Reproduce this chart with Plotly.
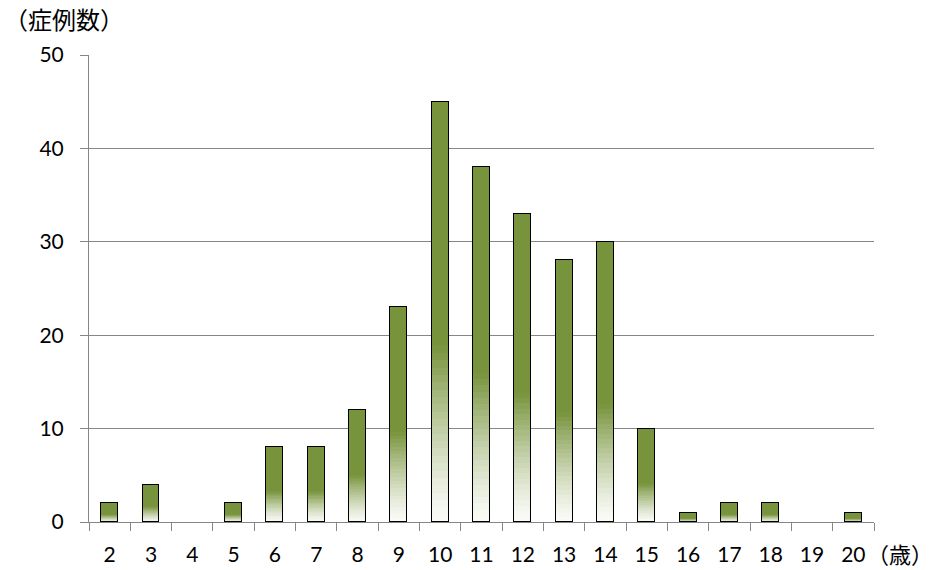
import plotly.graph_objects as go

ages = ["2", "3", "4", "5", "6", "7", "8", "9", "10", "11", "12", "13", "14", "15", "16", "17", "18", "19", "20"]
cases = [2, 4, 0, 2, 8, 8, 12, 23, 45, 38, 33, 28, 30, 10, 1, 2, 2, 0, 1]
y_ticks = [0, 10, 20, 30, 40, 50]

GREEN = (119, 147, 60)
WHITE = (250, 251, 247)
FADE_SHARE = 0.42  # share of each bar (from the bottom) that fades to white
N_SLICES = 24

fig = go.Figure()

def mix(t):
    r = [round(WHITE[i] + (GREEN[i] - WHITE[i]) * t) for i in range(3)]
    return f"rgb({r[0]},{r[1]},{r[2]})"

# gradient part: stacked slices
for k in range(N_SLICES):
    t = ((k + 0.5) / N_SLICES) ** 1.3
    fig.add_trace(go.Bar(
        x=ages, y=[v * FADE_SHARE / N_SLICES for v in cases],
        marker=dict(color=mix(t), line=dict(width=0)),
        width=0.41, hoverinfo="skip", showlegend=False,
    ))
# solid part
fig.add_trace(go.Bar(
    x=ages, y=[v * (1 - FADE_SHARE) for v in cases],
    marker=dict(color=mix(1.0), line=dict(width=0)),
    width=0.41, showlegend=False, hoverinfo="skip",
))
# outline on overlaid axis
fig.add_trace(go.Bar(
    x=ages, y=[v if v > 0 else None for v in cases],
    marker=dict(color="rgba(0,0,0,0)", line=dict(color="black", width=1.5)),
    width=0.41, xaxis="x2", showlegend=False,
))

num_font = dict(family="Lato, Liberation Sans, Arial, sans-serif", size=21, color="black")
cjk_font = dict(family="Noto Sans CJK JP", size=24, color="black")

fig.update_layout(
    width=936, height=570,
    margin=dict(l=89, r=62, t=55, b=48, autoexpand=False),
    plot_bgcolor="white", paper_bgcolor="white",
    barmode="stack", bargap=0,
    xaxis=dict(
        type="category", categoryorder="array", categoryarray=ages,
        range=[-0.5, len(ages) - 0.5],
        showline=True, linecolor="#868686", linewidth=1,
        ticks="outside", tickson="boundaries", ticklen=8, tickcolor="#868686",
        showgrid=False, tickfont=num_font, ticklabelstandoff=14, automargin=False,
    ),
    xaxis2=dict(
        type="category", categoryorder="array", categoryarray=ages,
        range=[-0.5, len(ages) - 0.5], overlaying="x", visible=False,
    ),
    yaxis=dict(
        range=[0, 50], tickvals=y_ticks,
        showline=True, linecolor="#868686", linewidth=1,
        ticks="outside", ticklen=8, tickcolor="#868686",
        showgrid=True, gridcolor="#868686", gridwidth=1,
        zeroline=False, tickfont=num_font, ticklabelstandoff=12, automargin=False,
    ),
    annotations=[
        dict(text="（症例数）", xref="paper", yref="paper",
             x=-87 / 785, y=1 + (55 - 18) / 467, xanchor="left", yanchor="middle",
             showarrow=False, font=cjk_font),
        dict(text="（歳）", xref="paper", yref="paper",
             x=(935 - 89) / 785, y=-(553 - 522) / 467, xanchor="right", yanchor="middle",
             showarrow=False, font=dict(family="Noto Sans CJK JP", size=22, color="black")),
    ],
)

fig.write_html(
    "out.html",
    config={"displayModeBar": False},
    post_script="document.body.style.margin='0';document.body.style.overflow='hidden';",
)
